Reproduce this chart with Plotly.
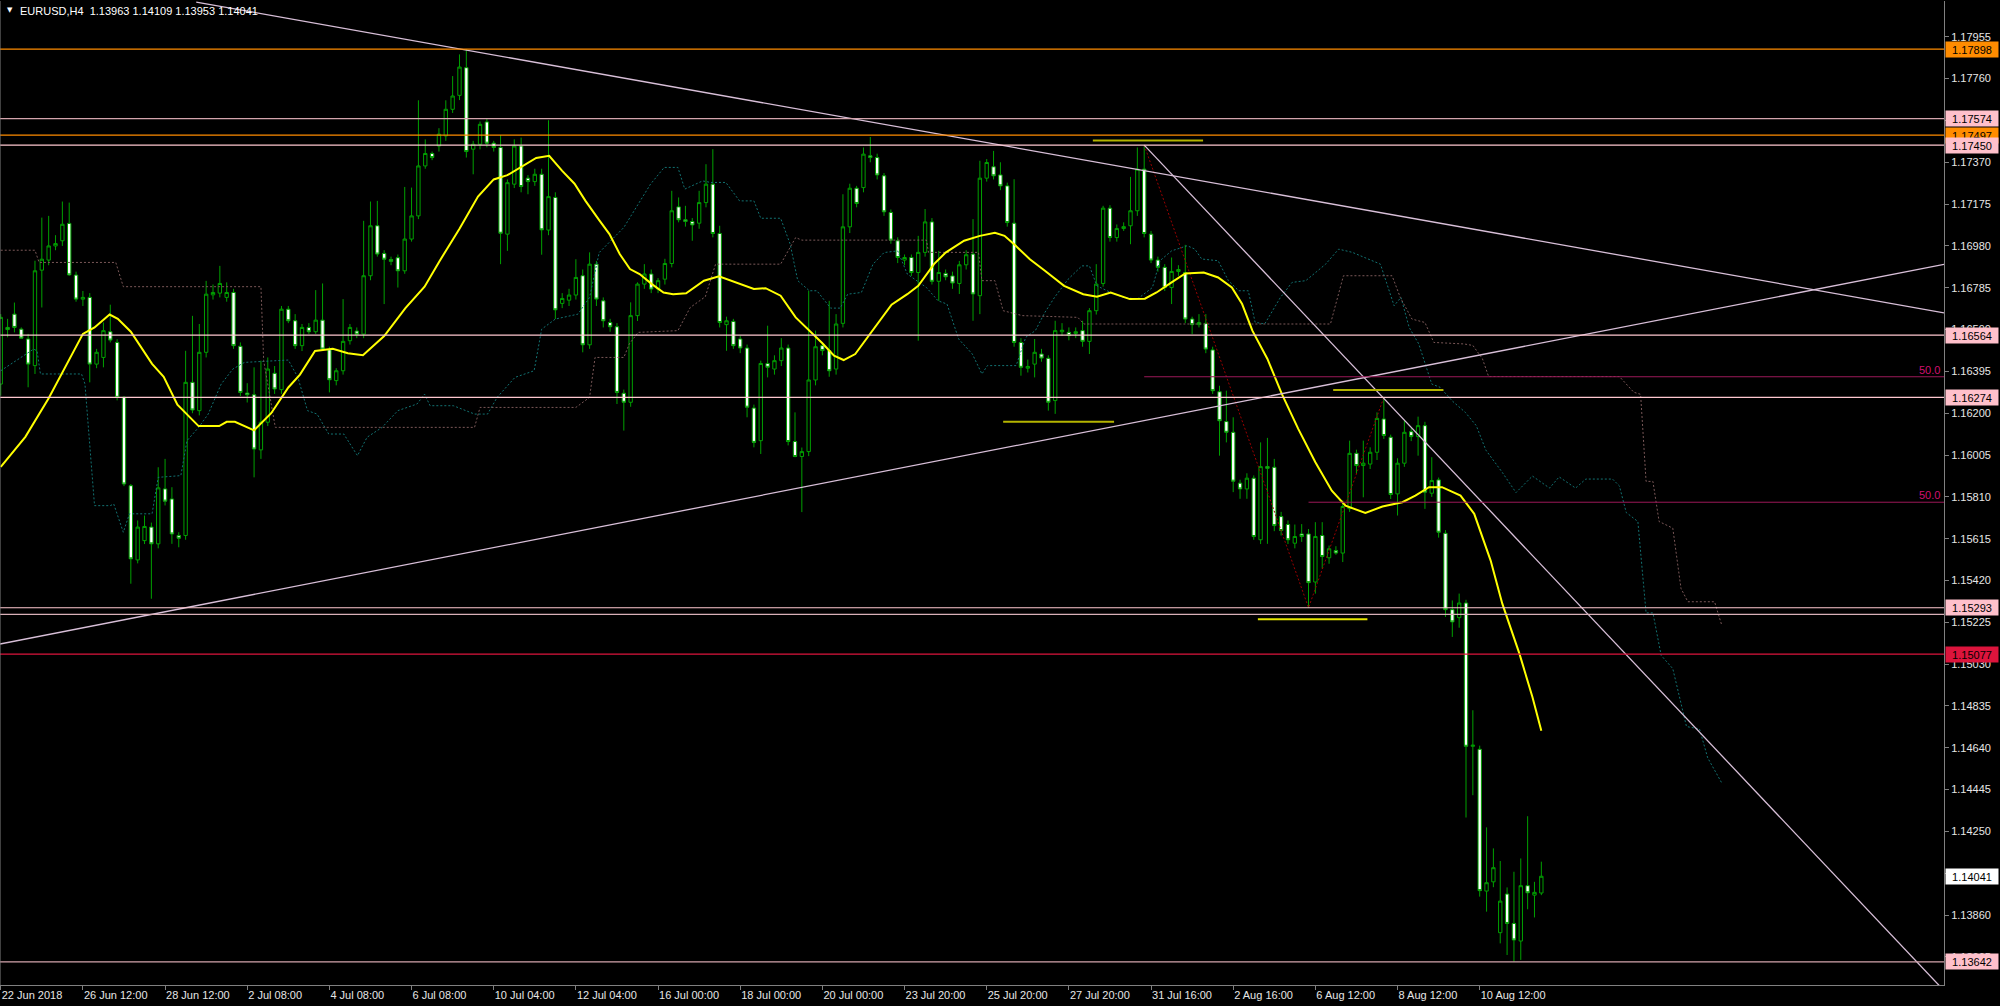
import plotly.graph_objects as go

# ---------------- data ----------------
symbol_title = "EURUSD,H4  1.13963 1.14109 1.13953 1.14041"

opens = [1.16336,1.16600,1.16662,1.16592,1.16546,1.16422,1.16867,1.16914,1.16980,1.17004,
 1.17085,1.16844,1.16732,1.16740,1.16429,1.16460,1.16580,1.16530,1.16274,1.15862,
 1.15516,1.15606,1.15669,1.15591,1.15847,1.15800,1.15630,1.15630,1.16344,1.16212,
 1.16484,1.16752,1.16760,1.16740,1.16763,1.16512,1.16294,1.16286,1.16029,1.16158,
 1.16386,1.16310,1.16685,1.16631,1.16515,1.16600,1.16580,1.16634,1.16496,1.16352,
 1.16398,1.16538,1.16583,1.16569,1.16841,1.17074,1.16945,1.16917,1.16925,1.16864,
 1.17012,1.17120,1.17353,1.17411,1.17446,1.17493,1.17617,1.17682,1.17811,1.17431,
 1.17454,1.17558,1.17459,1.17439,1.17035,1.17268,1.17446,1.17296,1.17280,1.17314,
 1.17054,1.17206,1.16712,1.16727,1.16751,1.16841,1.16519,1.16895,1.16724,1.16623,
 1.16603,1.16293,1.16251,1.16655,1.16802,1.16849,1.16779,1.16825,1.16898,1.17162,
 1.17102,1.17094,1.17086,1.17182,1.17268,1.17038,1.16613,1.16628,1.16546,1.16504,
 1.16224,1.16072,1.16432,1.16406,1.16445,1.16504,1.16068,1.15998,1.16021,1.16355,
 1.16515,1.16492,1.16406,1.16619,1.17069,1.17249,1.17252,1.17400,1.17392,1.17307,
 1.17136,1.17004,1.16914,1.16926,1.16856,1.16950,1.17092,1.16815,1.16852,1.16840,
 1.16805,1.16892,1.16942,1.16748,1.17296,1.17349,1.17311,1.17260,1.17086,1.16530,
 1.16410,1.16429,1.16476,1.16456,1.16259,1.16580,1.16577,1.16572,1.16585,1.16535,
 1.16678,1.16805,1.17156,1.17019,1.17061,1.17074,1.17144,1.17338,1.17035,1.16914,
 1.16880,1.16786,1.16861,1.16856,1.16639,1.16613,1.16619,1.16495,1.16300,1.16161,
 1.16111,1.15874,1.15847,1.15897,1.15610,1.15951,1.15948,1.15718,1.15681,1.15594,
 1.15637,1.15637,1.15413,1.15630,1.15526,1.15560,1.15548,1.15755,1.16013,1.15956,
 1.15963,1.16018,1.16173,1.16088,1.15824,1.15967,1.16114,1.16091,1.16142,1.15827,
 1.15889,1.15640,1.15284,1.15247,1.15315,1.14647,1.14633,1.13972,1.14015,1.13778,
 1.13958,1.13821,1.13739,1.13997,1.13953,1.13963]
highs = [1.16662,1.16640,1.16716,1.16600,1.16570,1.16911,1.17112,1.17120,1.17030,1.17187,
 1.17182,1.16860,1.16770,1.16760,1.16500,1.16623,1.16706,1.16545,1.16280,1.15870,
 1.15700,1.15723,1.15690,1.15948,1.15987,1.15855,1.15645,1.16491,1.16654,1.16616,
 1.16817,1.16800,1.16887,1.16810,1.16780,1.16530,1.16340,1.16414,1.16445,1.16460,
 1.16420,1.16700,1.16700,1.16662,1.16616,1.16620,1.16774,1.16805,1.16510,1.16410,
 1.16732,1.16616,1.16600,1.17097,1.17187,1.17190,1.16960,1.16930,1.16940,1.17255,
 1.17252,1.17659,1.17477,1.17420,1.17529,1.17659,1.17772,1.17873,1.17898,1.17470,
 1.17560,1.17574,1.17470,1.17497,1.17290,1.17477,1.17485,1.17310,1.17340,1.17340,
 1.17566,1.17230,1.16760,1.16780,1.16918,1.16870,1.16950,1.16910,1.16740,1.16640,
 1.16620,1.16310,1.16717,1.16810,1.16895,1.16870,1.16830,1.16920,1.17237,1.17206,
 1.17167,1.17110,1.17237,1.17361,1.17431,1.17074,1.16650,1.16640,1.16560,1.16520,
 1.16240,1.16445,1.16608,1.16470,1.16550,1.16520,1.16204,1.16040,1.16771,1.16585,
 1.16530,1.16724,1.16662,1.17221,1.17270,1.17260,1.17439,1.17488,1.17410,1.17320,
 1.17150,1.17020,1.16940,1.16940,1.17027,1.17152,1.17110,1.16957,1.16870,1.16860,
 1.16910,1.16960,1.17105,1.17377,1.17385,1.17423,1.17370,1.17275,1.17291,1.16550,
 1.16450,1.16546,1.16500,1.16470,1.16631,1.16620,1.16600,1.16600,1.16631,1.16690,
 1.16895,1.17167,1.17170,1.17080,1.17090,1.17302,1.17439,1.17450,1.17050,1.16930,
 1.16895,1.16926,1.16890,1.16985,1.16650,1.16662,1.16662,1.16510,1.16328,1.16305,
 1.16181,1.15890,1.15920,1.15910,1.16064,1.16085,1.15987,1.15740,1.15700,1.15681,
 1.15683,1.15660,1.15692,1.15692,1.15583,1.15580,1.15793,1.16072,1.16030,1.16072,
 1.16041,1.16204,1.16274,1.16100,1.15990,1.16165,1.16130,1.16184,1.16160,1.15995,
 1.15900,1.15655,1.15327,1.15359,1.15330,1.14815,1.14650,1.14269,1.14171,1.14112,
 1.13989,1.14062,1.14124,1.14321,1.14015,1.14109]
lows = [1.16282,1.16554,1.16577,1.16546,1.16321,1.16383,1.16693,1.16890,1.16960,1.16980,
 1.16841,1.16720,1.16700,1.16344,1.16410,1.16414,1.16530,1.16260,1.15860,1.15405,
 1.15500,1.15590,1.15335,1.15570,1.15770,1.15591,1.15575,1.15610,1.16200,1.16190,
 1.16460,1.16730,1.16740,1.16720,1.16500,1.16280,1.16250,1.15901,1.15987,1.16140,
 1.16290,1.16290,1.16620,1.16500,1.16490,1.16570,1.16570,1.16490,1.16297,1.16330,
 1.16380,1.16520,1.16550,1.16550,1.16820,1.16930,1.16709,1.16890,1.16786,1.16850,
 1.17000,1.17105,1.17340,1.17380,1.17420,1.17470,1.17600,1.17660,1.17392,1.17314,
 1.17430,1.17440,1.17420,1.16895,1.16957,1.17250,1.17230,1.17221,1.17260,1.16939,
 1.17030,1.16639,1.16690,1.16700,1.16730,1.16484,1.16500,1.16700,1.16600,1.16580,
 1.16243,1.16119,1.16230,1.16630,1.16780,1.16760,1.16760,1.16800,1.16880,1.17090,
 1.17070,1.17004,1.17060,1.17160,1.17020,1.16600,1.16491,1.16500,1.16480,1.16181,
 1.16041,1.16010,1.16367,1.16380,1.16420,1.16050,1.15995,1.15739,1.16000,1.16330,
 1.16470,1.16370,1.16380,1.16600,1.17040,1.17160,1.17230,1.17370,1.17290,1.17120,
 1.16990,1.16900,1.16890,1.16840,1.16538,1.16930,1.16800,1.16724,1.16820,1.16780,
 1.16756,1.16870,1.16631,1.16662,1.17280,1.17290,1.17240,1.17070,1.16510,1.16375,
 1.16390,1.16367,1.16440,1.16212,1.16197,1.16560,1.16540,1.16550,1.16510,1.16476,
 1.16660,1.16790,1.17000,1.17000,1.17050,1.16988,1.17120,1.17020,1.16900,1.16860,
 1.16770,1.16709,1.16840,1.16620,1.16569,1.16600,1.16480,1.16290,1.16002,1.16064,
 1.15832,1.15801,1.15801,1.15610,1.15590,1.15591,1.15650,1.15630,1.15590,1.15570,
 1.15600,1.15293,1.15359,1.15475,1.15498,1.15540,1.15506,1.15740,1.15917,1.15808,
 1.15940,1.15982,1.16080,1.15800,1.15723,1.15950,1.16070,1.16002,1.15754,1.15810,
 1.15620,1.15250,1.15157,1.15200,1.14315,1.14419,1.13946,1.13876,1.13990,1.13728,
 1.13674,1.13642,1.13651,1.13887,1.13849,1.13953]
closes = [1.16647,1.16590,1.16600,1.16550,1.16429,1.16864,1.16918,1.16980,1.16991,1.17081,
 1.16845,1.16732,1.16740,1.16429,1.16484,1.16585,1.16541,1.16274,1.15870,1.15521,
 1.15669,1.15672,1.15591,1.15852,1.15790,1.15637,1.15617,1.16344,1.16215,1.16484,
 1.16755,1.16763,1.16805,1.16763,1.16515,1.16297,1.16286,1.16033,1.16158,1.16406,
 1.16313,1.16685,1.16631,1.16515,1.16600,1.16580,1.16634,1.16499,1.16356,1.16398,
 1.16535,1.16600,1.16568,1.16841,1.17074,1.16942,1.16918,1.16908,1.16864,1.17012,
 1.17120,1.17353,1.17411,1.17392,1.17501,1.17617,1.17679,1.17814,1.17420,1.17454,
 1.17547,1.17459,1.17439,1.17039,1.17275,1.17446,1.17257,1.17280,1.17314,1.17055,
 1.17210,1.16682,1.16735,1.16751,1.16833,1.16519,1.16895,1.16732,1.16631,1.16603,
 1.16297,1.16251,1.16655,1.16802,1.16849,1.16779,1.16818,1.16898,1.17144,1.17102,
 1.17094,1.17078,1.17182,1.17268,1.17038,1.16623,1.16631,1.16515,1.16504,1.16228,
 1.16064,1.16432,1.16414,1.16445,1.16504,1.16068,1.15998,1.16021,1.16355,1.16510,
 1.16492,1.16398,1.16616,1.17069,1.17249,1.17178,1.17408,1.17392,1.17311,1.17139,
 1.17007,1.16926,1.16926,1.16856,1.16950,1.17092,1.16815,1.16856,1.16836,1.16807,
 1.16892,1.16939,1.16756,1.17296,1.17369,1.17307,1.17260,1.17089,1.16530,1.16414,
 1.16418,1.16484,1.16457,1.16251,1.16585,1.16587,1.16562,1.16580,1.16535,1.16678,
 1.16802,1.17156,1.17019,1.17061,1.17070,1.17144,1.17338,1.17038,1.16914,1.16880,
 1.16786,1.16861,1.16870,1.16639,1.16613,1.16623,1.16499,1.16305,1.16165,1.16111,
 1.15883,1.15847,1.15897,1.15625,1.15951,1.15943,1.15676,1.15653,1.15610,1.15625,
 1.15625,1.15410,1.15625,1.15532,1.15568,1.15548,1.15765,1.16013,1.15956,1.15967,
 1.16018,1.16176,1.16096,1.15821,1.15967,1.16111,1.16091,1.16142,1.15832,1.15886,
 1.15645,1.15284,1.15227,1.15315,1.14647,1.14652,1.13974,1.14011,1.14081,1.13925,
 1.13821,1.13744,1.13997,1.13964,1.13966,1.14041]

# moving average (yellow): bar index / price
ma_idx = [0,3.6,7,12,13.7,15.9,17.1,19,22.1,23.8,25.8,28.9,31.9,33,34.2,37,39.5,42,43.7,45.9,
 48.5,50.7,52.9,56,59.1,61.9,64.1,67,69.7,72,74,76,78.2,80.1,82,83.8,85.4,87.4,88.9,90.4,
 91.9,93.3,95.1,96.8,98.2,100.1,102.7,104.9,107.2,110,111.7,113.9,116.1,118.1,120,121.7,
 123.1,124.8,126.8,130.1,132.4,134,136.3,138,140.7,143,145.2,146.6,148,150.3,152.5,155.3,
 158.1,160.1,162.1,164.9,167.1,168.8,171,173,175.7,177.8,179.8,181.3,182.8,185,187.1,189.5,
 192,194.4,196.4,199.3,201.8,204.7,206.6,208.6,210.5,213.2,215.2,216.6,217.6,219.3,221.8,
 223.7,225]
ma_val = [1.1595,1.1609,1.1627,1.1657,1.1660,1.1666,1.1664,1.1658,1.1643,1.1637,1.1624,1.1614,
 1.1614,1.1616,1.1616,1.1612,1.1620,1.1632,1.1638,1.1649,1.1650,1.1648,1.1647,1.1656,1.1669,
 1.1679,1.1691,1.1706,1.1721,1.1729,1.1731,1.1735,1.1739,1.1740,1.1733,1.1727,1.1719,1.1710,
 1.17035,1.16942,1.16872,1.16849,1.16802,1.16763,1.16755,1.16759,1.16818,1.16838,1.16810,
 1.16779,1.16783,1.16748,1.16647,1.16585,1.16526,1.16468,1.16448,1.16476,1.16561,1.16706,
 1.16755,1.16794,1.16895,1.16949,1.17004,1.17027,1.17041,1.17027,1.16988,1.16918,1.16864,
 1.16794,1.16755,1.16743,1.16763,1.16732,1.16734,1.16763,1.16810,1.16852,1.16856,1.16833,
 1.16786,1.16709,1.16585,1.16453,1.16290,1.16127,1.15971,1.15839,1.15769,1.15735,1.15765,
 1.15785,1.15816,1.15855,1.15855,1.15816,1.15731,1.15607,1.15513,1.15312,1.15079,1.14877,
 1.14720]

# Ichimoku-style dotted spans (shifted forward), bar index / price
span_a_idx = [0,4.8,5.3,5.8,11.8,12.3,13.7,16,16.5,17.9,18.8,22.1,23,26.3,27.2,28.9,30.3,32.2,
 33.9,35.6,42,43.4,44.8,46.2,47.9,50.1,52.1,53.5,55.7,58,60.8,61.9,62.7,66.1,69.2,71.1,72.5,
 75.1,77.9,79,81,84.3,86,87.4,91,94.9,96.9,98.9,99.9,102.5,103.7,105.9,107.9,110,111,113.9,
 115.3,116.4,118.1,119.2,121.2,122.6,123.7,125.7,127.4,129,131,132.4,135.2,136.9,138.2,139.9,
 141.9,143.3,144.1,148.3,149.7,151.1,152.5,153.9,155.9,157.9,159,160.1,162.1,164,166,168.2,
 169.3,171,173.3,174.4,175.4,177.8,179.3,180.8,182.2,183.2,184.6,186.9,188.6,190.6,193.5,
 195.4,197.4,199.8,201.5,203.5,204.5,205.7,207.1,209,210.2,212,213.9,215.5,216.9,219.3,221.3,
 223.7,226.2,227.6,230,231.5,235.4,236.4,237.4,239.1,240.1,240.3,241.3,242.5,244.2,246.2,
 248.1,249.3,251.3]
span_a_val = [1.16398,1.16499,1.16491,1.16383,1.16383,1.16336,1.15769,1.15769,1.15777,1.15645,
 1.15731,1.15731,1.15901,1.15909,1.16072,1.16134,1.16196,1.16336,1.16406,1.16437,1.16448,
 1.16367,1.16212,1.16196,1.16103,1.16103,1.16002,1.16088,1.16134,1.16212,1.16243,1.16289,
 1.16235,1.16235,1.16196,1.16196,1.16274,1.16367,1.16398,1.16592,1.16639,1.16662,1.16740,
 1.16949,1.17066,1.17268,1.17346,1.17346,1.17245,1.17283,1.17276,1.17276,1.17190,1.17190,
 1.17109,1.17109,1.16988,1.16818,1.16771,1.16771,1.16690,1.16690,1.16755,1.16763,1.16895,
 1.16949,1.16957,1.16849,1.16786,1.16724,1.16709,1.16546,1.16476,1.16383,1.16422,1.16422,
 1.16554,1.16585,1.16670,1.16740,1.16825,1.16887,1.16887,1.16794,1.16763,1.16740,1.16732,
 1.16786,1.16911,1.16957,1.16981,1.16965,1.16919,1.16911,1.16818,1.16771,1.16771,1.16624,
 1.16616,1.16740,1.16810,1.16818,1.16895,1.16965,1.16950,1.16919,1.16895,1.16701,1.16740,
 1.16600,1.16523,1.16336,1.16321,1.16257,1.16204,1.16142,1.16028,1.15924,1.15830,1.15907,
 1.15851,1.15903,1.15851,1.15893,1.15893,1.15861,1.15737,1.15695,1.15362,1.15269,1.15269,
 1.15071,1.15009,1.14739,1.14728,1.14593,1.14479]
span_b_idx = [0,5,5.6,16.8,17.9,38,38.4,40.1,69.2,70,84,86,86.8,91,91.8,93.1,98.9,100.7,102.9,
 104.4,113.9,116.1,117,135.2,135.5,142.8,143.3,145.2,146.4,149.2,157.3,158.2,194.2,196.1,
 203.2,204.4,206.1,208,209.3,213.7,215,216.4,217.3,236.4,238.5,239.5,240.3,241.3,242.2,244.2,
 245.4,246.4,250.3,251.3]
span_b_val = [1.16960,1.16960,1.16903,1.16903,1.16790,1.16790,1.16445,1.16134,1.16134,1.16227,
 1.16227,1.16274,1.16460,1.16460,1.16523,1.16577,1.16585,1.16693,1.16743,1.16895,1.16895,
 1.17019,1.17007,1.17007,1.16950,1.16950,1.16818,1.16818,1.16678,1.16655,1.16647,1.16616,
 1.16616,1.16841,1.16841,1.16740,1.16639,1.16623,1.16530,1.16523,1.16516,1.16454,1.16371,
 1.16371,1.16298,1.16288,1.15882,1.15882,1.15695,1.15664,1.15383,1.15321,1.15321,1.15217]

# zigzag swing points
zigzag_idx = [167, 191, 202]
zigzag_val = [1.17450, 1.15293, 1.16274]

# trend lines (bar index / price at both ends)
trend1_idx = [28.55, 283.81]; trend1_val = [1.18117, 1.16668]
trend2_idx = [167, 283.81];   trend2_val = [1.17450, 1.13508]
trend3_idx = [-0.108, 283.81]; trend3_val = [1.15124, 1.16894]

# horizontal price levels
level_prices = [1.17898, 1.17574, 1.17497, 1.17450, 1.16564, 1.16274, 1.15293, 1.15262, 1.15077, 1.13642]
level_labels = ["1.17898", "1.17574", "1.17497", "1.17450", "1.16564", "1.16274", "1.15293", "", "1.15077", "1.13642"]
current_price = 1.14041

# fibonacci 50% levels (start bar, price)
fib_start = [167, 191]
fib_price = [1.16370, 1.15785]
fib_text = ["50.0", "50.0"]

# short marker segments (start bar, end bar, price)
seg_start = [159.5, 146.4, 194.6, 183.6]
seg_end = [175.6, 162.6, 210.7, 199.6]
seg_price = [1.17471, 1.16160, 1.16308, 1.15239]

# axis ticks
x_tick_idx = [0, 12, 24, 36, 48, 60, 72, 84, 96, 108, 120, 132, 144, 156, 168, 180, 192, 204, 216]
x_tick_labels = ["22 Jun 2018", "26 Jun 12:00", "28 Jun 12:00", "2 Jul 08:00", "4 Jul 08:00",
 "6 Jul 08:00", "10 Jul 04:00", "12 Jul 04:00", "16 Jul 00:00", "18 Jul 00:00", "20 Jul 00:00",
 "23 Jul 20:00", "25 Jul 20:00", "27 Jul 20:00", "31 Jul 16:00", "2 Aug 16:00", "6 Aug 12:00",
 "8 Aug 12:00", "10 Aug 12:00"]
y_tick_values = [1.17955, 1.17760, 1.17565, 1.17370, 1.17175, 1.16980, 1.16785, 1.16590, 1.16395,
 1.16200, 1.16005, 1.15810, 1.15615, 1.15420, 1.15225, 1.15030, 1.14835, 1.14640, 1.14445,
 1.14250, 1.14055, 1.13860, 1.13665]
# tick labels fully covered by price boxes in the reference are left blank
y_tick_labels = ["1.17955", "1.17760", "", "1.17370", "1.17175", "1.16980", "1.16785",
 "1.16590", "1.16395", "1.16200", "1.16005", "1.15810", "1.15615", "1.15420", "1.15225",
 "1.15030", "1.14835", "1.14640", "1.14445", "1.14250", "", "1.13860", "1.13665"]

# ---------------- styles ----------------
FONT = "Liberation Sans"
GREEN = "#00a000"
level_line_colors = ["#ff8c00", "#d4a5ad", "#ff8c00", "#ffc8d0", "#ffc8d0", "#ffc8d0", "#ffc8d0",
                     "#d9b0b8", "#dc143c", "#d4a5ad"]
level_box_colors = ["#ff8c00", "#ffc0cb", "#ff8c00", "#ffc0cb", "#ffc0cb", "#ffc0cb", "#ffc0cb",
                    None, "#dc143c", "#ffc0cb"]
seg_colors = ["#b4b400", "#b4b400", "#b4b400", "#e6e600"]

x_range = [-0.108, 283.81]
y_range = [1.13534, 1.18122]

fig = go.Figure()

fig.add_trace(go.Scatter(x=span_a_idx, y=span_a_val, mode="lines",
                         line=dict(color="#127272", width=1, dash="2px,2px"), hoverinfo="skip"))
fig.add_trace(go.Scatter(x=span_b_idx, y=span_b_val, mode="lines",
                         line=dict(color="#7a5858", width=1, dash="2px,2px"), hoverinfo="skip"))

idx = list(range(len(opens)))
fig.add_trace(go.Candlestick(
    x=idx, open=opens, high=highs, low=lows, close=closes,
    increasing=dict(line=dict(color=GREEN, width=1), fillcolor="#000000"),
    decreasing=dict(line=dict(color=GREEN, width=1), fillcolor="#ffffff"),
    whiskerwidth=0, hoverinfo="skip"))

fig.add_trace(go.Scatter(x=zigzag_idx, y=zigzag_val, mode="lines",
                         line=dict(color="#9a0000", width=1, dash="2px,2px"), hoverinfo="skip"))

fig.add_trace(go.Scatter(x=ma_idx, y=ma_val, mode="lines",
                         line=dict(color="#ffff00", width=2), hoverinfo="skip"))

for tx, ty in [(trend1_idx, trend1_val), (trend2_idx, trend2_val), (trend3_idx, trend3_val)]:
    fig.add_trace(go.Scatter(x=tx, y=ty, mode="lines",
                             line=dict(color="#d8bfd8", width=1.3), hoverinfo="skip"))

for s, e, p, c in zip(seg_start, seg_end, seg_price, seg_colors):
    fig.add_trace(go.Scatter(x=[s, e], y=[p, p], mode="lines",
                             line=dict(color=c, width=2), hoverinfo="skip"))

for s, p in zip(fib_start, fib_price):
    fig.add_trace(go.Scatter(x=[s, x_range[1]], y=[p, p], mode="lines",
                             line=dict(color="#9b1858", width=1), hoverinfo="skip"))

shapes = []
for p, c in zip(level_prices, level_line_colors):
    shapes.append(dict(type="line", xref="paper", x0=0, x1=1, yref="y", y0=p, y1=p,
                       line=dict(color=c, width=1.2)))
shapes.append(dict(type="line", xref="paper", x0=0, x1=0, yref="paper", y0=0, y1=1,
                   line=dict(color="#808080", width=1)))

annotations = []
for p, lab, bc in zip(level_prices, level_labels, level_box_colors):
    if not lab:
        continue
    annotations.append(dict(xref="paper", x=1, xanchor="left", xshift=1, yref="y", y=p,
                            yanchor="middle", text=lab, showarrow=False, bgcolor=bc,
                            width=50, height=13, borderpad=1,
                            font=dict(family=FONT, size=11, color="#000000")))
annotations.append(dict(xref="paper", x=1, xanchor="left", xshift=1, yref="y", y=current_price,
                        yanchor="middle", text=f"{current_price:.5f}", showarrow=False,
                        bgcolor="#ffffff", width=50, height=13, borderpad=1,
                        font=dict(family=FONT, size=11, color="#000000")))
for p, t in zip(fib_price, fib_text):
    annotations.append(dict(xref="paper", x=1, xanchor="right", xshift=-2, yref="y", y=p,
                            yanchor="bottom", yshift=-1, text=t, showarrow=False,
                            font=dict(family=FONT, size=11, color="#d01070")))
annotations.append(dict(xref="paper", x=0, xanchor="left", xshift=5, yref="paper", y=1,
                        yanchor="top", yshift=-3, text="▼", showarrow=False,
                        font=dict(family="DejaVu Sans", size=7, color="#ffffff")))
annotations.append(dict(xref="paper", x=0, xanchor="left", xshift=18, yref="paper", y=1,
                        yanchor="top", yshift=-2, text=symbol_title, showarrow=False,
                        font=dict(family=FONT, size=11, color="#ffffff")))

fig.update_layout(
    width=2000, height=1006,
    margin=dict(l=0, r=56, t=1, b=21, pad=0),
    paper_bgcolor="#000000", plot_bgcolor="#000000",
    showlegend=False, hovermode=False,
    shapes=shapes, annotations=annotations,
    xaxis=dict(range=x_range, tickmode="array", tickvals=x_tick_idx, ticktext=x_tick_labels,
               ticks="outside", ticklen=4, tickcolor="#808080", tickwidth=1,
               showgrid=False, zeroline=False, showline=True, linecolor="#808080", linewidth=1,
               ticklabelposition="outside right",
               tickfont=dict(family=FONT, size=11, color="#e6e6e6"),
               rangeslider=dict(visible=False), fixedrange=True),
    yaxis=dict(side="right", range=y_range, tickmode="array",
               tickvals=y_tick_values, ticktext=y_tick_labels,
               ticks="outside", ticklen=4, tickcolor="#808080", tickwidth=1,
               showgrid=False, zeroline=False, showline=True, linecolor="#808080", linewidth=1,
               tickfont=dict(family=FONT, size=11, color="#e6e6e6"), fixedrange=True),
)

fig.write_html("out.html", config={"displayModeBar": False},
               post_script="document.body.style.margin='0';document.body.style.overflow='hidden';")
